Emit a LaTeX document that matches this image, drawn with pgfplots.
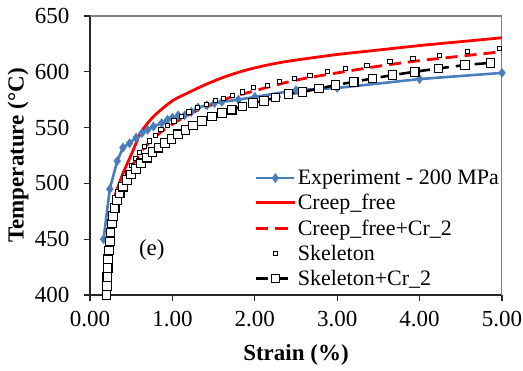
\documentclass[border=0pt]{standalone}
\usepackage{pgfplots}
\pgfplotsset{compat=1.18}
\usepackage{fontspec}
\setmainfont{Liberation Serif}
\definecolor{expblue}{RGB}{74,126,187}
\begin{document}
\begin{tikzpicture}
\begin{axis}[
  name=main,
  scale only axis,
  width=412pt, height=279pt,
  xmin=0, xmax=5, ymin=400, ymax=650,
  xtick={0,1,2,3,4,5}, ytick={400,450,...,650},
  axis x line*=bottom, axis y line*=left,
  axis line style={line width=1.2pt, black!85},
  tick align=outside, major tick length=6pt,
  tick style={line width=1.1pt, black!85},
  /pgf/number format/assume math mode=true,
  xticklabel={\pgfmathprintnumber[fixed,fixed zerofill,precision=2]{\tick}},
  yticklabel={\pgfmathprintnumber{\tick}},
  xticklabel style={font=\fontsize{23}{27}\selectfont, yshift=-7pt},
  yticklabel style={font=\fontsize{23}{27}\selectfont, xshift=-11pt},
  xlabel={\textbf{Strain (\%)}},
  ylabel={\textbf{Temperature (°C)}},
  label style={font=\fontsize{23}{27}\selectfont},
  xlabel style={at={(rel axis cs:0.5,0)}, anchor=center, yshift=-60pt},
  ylabel style={at={(rel axis cs:0,0.5)}, anchor=center, yshift=72pt},
  legend style={at={(axis cs:2.0,514)}, anchor=north west, draw=none, fill=none, inner sep=0pt,
    font=\fontsize{22}{26}\selectfont, row sep=4.3pt,
    /tikz/every even column/.append style={column sep=0pt}},
  legend cell align=left,
  legend image code/.code={\draw[mark repeat=2,mark phase=2,#1] plot coordinates {(0pt,0pt)(19pt,0pt)(38pt,0pt)};},
]
\draw[black!50, line width=1.2pt] (rel axis cs:0,1) -- (rel axis cs:1,1) -- (rel axis cs:1,0);

% Experiment - 200 MPa
\addplot[color=expblue, line width=2.6pt, mark=diamond*, mark size=4.5pt, mark options={fill=expblue, line width=0.5pt}] coordinates {
(0.165,450)(0.24,495)(0.33,520)(0.40,532)(0.48,536)(0.56,541)(0.63,545)(0.70,548)(0.77,551)(0.87,554)(0.94,557)(1.0,559)(1.07,561)(1.15,561)(1.23,564)(1.31,568)(1.42,570)(1.51,572)(1.6,573)(1.8,575)(2.0,577.5)(2.5,583.5)(3.0,585.5)(4.0,593.5)(5.0,599)
};
\addlegendentry{Experiment - 200 MPa}

% Creep_free
\addplot[color=red, line width=2.8pt, smooth] coordinates {
(0.19,400)(0.2,420)(0.22,445)(0.25,470)(0.3,488)(0.34,497)(0.40,509)(0.46,519)(0.52,529)(0.57,538)(0.61,545)(0.7,554)(0.8,562)(1.0,574)(1.2,581.5)(1.4,588.5)(1.6,594.5)(1.8,599.5)(2.0,603.5)(2.25,607.5)(2.5,610.5)(3.0,615.5)(3.5,619.5)(4.0,623.5)(4.5,627)(5.0,630.5)
};
\addlegendentry{Creep\_free}

% Creep_free+Cr_2
\addplot[color=red, line width=2.8pt, smooth, dash pattern=on 12pt off 7pt] coordinates {
(0.2,400)(0.21,415)(0.22,428)(0.235,440)(0.25,451)(0.265,461)(0.285,471)(0.31,479)(0.34,487)(0.37,494)(0.41,501)(0.45,507)(0.49,513)(0.54,519)(0.59,525)(0.65,531)(0.71,536)(0.78,541)(0.86,546)(0.94,550)(1.02,554)(1.11,558)(1.21,562)(1.32,566)(1.43,569)(1.56,573)(1.7,577)(1.85,580)(2.0,583)(2.3,589)(2.6,594)(3.0,599)(3.5,605)(4.0,610)(4.5,614)(5.0,618)
};
\addlegendentry{Creep\_free+Cr\_2}

% Skeleton
\addplot[only marks, mark=square*, mark size=2.1pt, mark options={fill=white, draw=black, line width=0.9pt}] coordinates {
(0.2,400)(0.205,408)(0.21,415)(0.215,422)(0.22,428)(0.23,435)(0.24,442)(0.25,452)(0.26,458)(0.27,465)(0.28,472)(0.30,479)(0.32,486)(0.35,492)(0.38,498)(0.42,504)(0.46,510)(0.50,516)(0.55,522)(0.60,528)(0.66,533)(0.72,538)(0.79,543)(0.86,548)(0.94,552)(1.02,556)(1.11,560)(1.2,564)(1.3,568)(1.41,571)(1.52,574)(1.62,576)(1.73,579)(1.85,582)(1.98,586)(2.15,588)(2.3,591)(2.48,594)(2.67,597)(2.88,600)(3.1,603)(3.36,606)(3.64,609)(3.92,612)(4.24,615)(4.58,618)(4.97,621)
};
\addlegendentry{Skeleton}

% Skeleton+Cr_2
\addplot[color=black, line width=2.6pt, smooth, dash pattern=on 12pt off 7pt, mark=square*, mark size=4.3pt, mark options={solid, fill=white, draw=black, line width=1.1pt}] coordinates {
(0.2,400)(0.205,408)(0.21,416)(0.215,424)(0.22,432)(0.23,440)(0.24,448)(0.25,456)(0.265,464)(0.28,471)(0.30,478)(0.33,485)(0.36,491)(0.40,497)(0.45,503)(0.5,508)(0.56,513)(0.62,518)(0.69,523)(0.76,528)(0.83,532)(0.91,536)(0.99,540)(1.07,544)(1.16,548)(1.25,552)(1.36,556)(1.48,560)(1.6,563)(1.72,566)(1.85,569)(1.98,572)(2.11,574)(2.25,577)(2.41,580)(2.58,582)(2.78,585)(2.98,588)(3.2,591)(3.43,594)(3.67,597)(3.94,600)(4.23,603)(4.55,606)(4.86,608)
};
\addlegendentry{Skeleton+Cr\_2}

\node[font=\fontsize{23}{27}\selectfont] at (axis cs:0.75,440) {(e)};
\end{axis}
\pgfresetboundingbox
\path[use as bounding box] ([shift={(-90pt,-76pt)}]main.south west) rectangle ([shift={(433pt,295pt)}]main.south west);
\end{tikzpicture}
\end{document}
